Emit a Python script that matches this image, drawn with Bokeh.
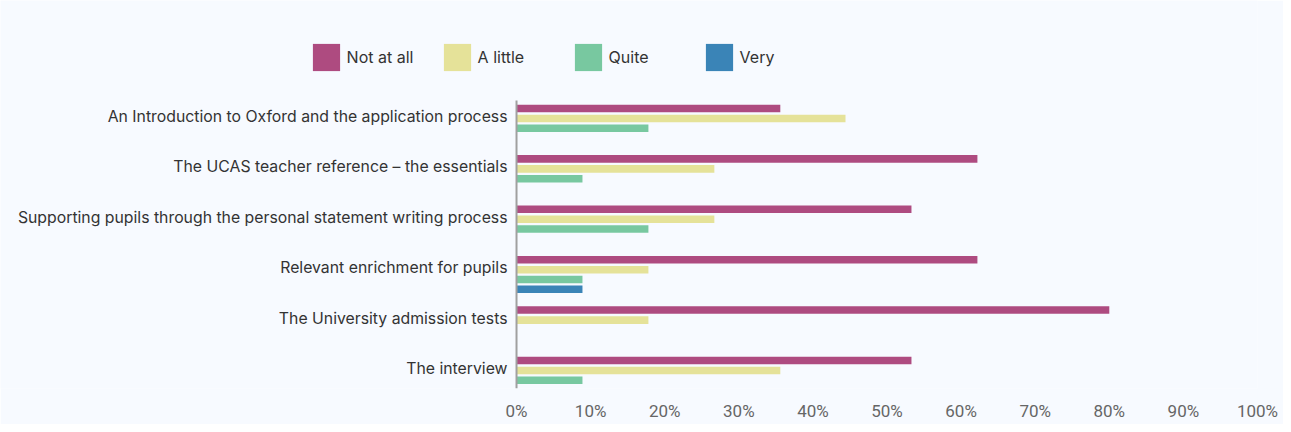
from bokeh.plotting import figure
from bokeh.models import Range1d, FixedTicker, Legend, LegendItem, ColumnDataSource
from bokeh.core.properties import value
from bokeh.transform import dodge
from bokeh.embed import file_html
from bokeh.resources import INLINE

categories = [
    "An Introduction to Oxford and the application process",
    "The UCAS teacher reference \u2013 the essentials",
    "Supporting pupils through the personal statement writing process",
    "Relevant enrichment for pupils",
    "The University admission tests",
    "The interview",
]
series_names = ["Not at all", "A little", "Quite", "Very"]
not_at_all = [35.6, 62.2, 53.3, 62.2, 80.0, 53.3]
a_little = [44.4, 26.7, 26.7, 17.8, 17.8, 35.6]
quite = [17.8, 8.9, 17.8, 8.9, 0.0, 8.9]
very = [0.0, 0.0, 0.0, 8.9, 0.0, 0.0]
x_ticks = [0, 10, 20, 30, 40, 50, 60, 70, 80, 90, 100]
x_tick_labels = [f"{t}%" for t in x_ticks]

colors = ["#ae4b80", "#e5e299", "#78c8a0", "#3a84b7"]
offsets = [-0.159, 0.040, 0.234, 0.429]
bar_h = 0.15
BG = "#f7faff"

# plot-area extents (category axis runs from AXIS_TOP to AXIS_BOTTOM)
AXIS_TOP, AXIS_BOTTOM = -0.317, 5.397

source = ColumnDataSource(dict(
    pos=list(range(len(categories))),
    cat=categories,
    s0=not_at_all, s1=a_little, s2=quite, s3=very,
))

p = figure(width=1283, height=424, output_backend="svg", toolbar_location=None,
           x_range=Range1d(-69.64, 100), y_range=Range1d(AXIS_BOTTOM, -2.301),
           y_axis_location=None,
           min_border_left=0, min_border_right=26, min_border_top=0,
           min_border_bottom=36)
p.background_fill_color = BG
p.border_fill_color = BG
p.outline_line_color = None
p.xgrid.grid_line_color = None
p.ygrid.grid_line_color = None

renderers = []
for k, col in enumerate(["s0", "s1", "s2", "s3"]):
    r = p.hbar(y=dodge("pos", offsets[k]), left=0, right=col, height=bar_h,
               source=source, fill_color=colors[k], line_color=None)
    renderers.append(r)

# category axis: line + labels
p.segment(x0=0, x1=0, y0=AXIS_TOP, y1=AXIS_BOTTOM, line_color="#a0a0a0", line_width=2)
p.text(x=0, y="pos", text="cat", source=source, x_offset=-9,
       text_align="right", text_baseline="middle",
       text_font=value("Inter"), text_font_size="15.8px", text_color="#333333")

# value axis
xa = p.xaxis[0]
xa.ticker = FixedTicker(ticks=x_ticks)
xa.major_label_overrides = {t: l for t, l in zip(x_ticks, x_tick_labels)}
xa.axis_line_color = None
xa.major_tick_line_color = None
xa.minor_tick_line_color = None
xa.major_tick_in = 0
xa.major_tick_out = 0
xa.minor_tick_in = 0
xa.minor_tick_out = 0
xa.major_label_standoff = 12
xa.major_label_text_font = "Roboto"
xa.major_label_text_font_size = "17px"
xa.major_label_text_color = "#666666"

legend = Legend(
    items=[LegendItem(label=n, renderers=[r]) for n, r in zip(series_names, renderers)],
    orientation="horizontal", location=(308.6, 314.5),
    glyph_width=34, glyph_height=34, label_standoff=4, label_width=93,
    spacing=0, padding=0, margin=0,
    border_line_color=None, background_fill_alpha=0,
    label_text_font="Inter", label_text_font_size="16px", label_text_color="#333333",
)
p.add_layout(legend, "center")

open("out.html", "w").write(file_html(p, INLINE))
